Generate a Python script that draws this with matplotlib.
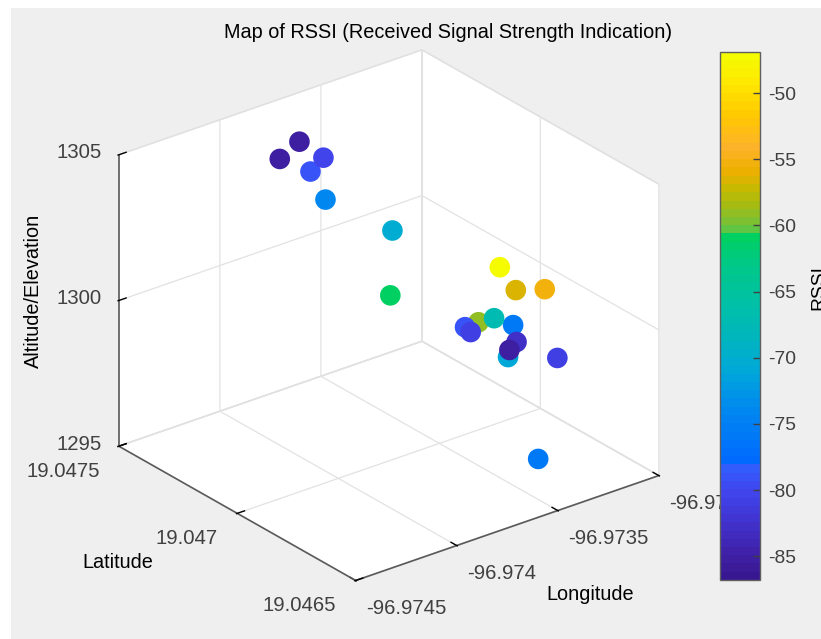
import matplotlib
matplotlib.use('Agg')
import matplotlib.pyplot as plt
from matplotlib.colors import LinearSegmentedColormap
from matplotlib.patches import Rectangle

plt.rcParams['font.family'] = ['Liberation Sans', 'DejaVu Sans']

# points
longitude = [-96.97387, -96.973795, -96.973729, -96.973765, -96.973713, -96.973438, -96.97348,
             -96.973149, -96.973145, -96.973051, -96.973039, -96.973127, -96.973265, -96.973353,
             -96.973027, -96.973187, -96.97341, -96.973058, -96.973148, -96.973312]
latitude = [19.047358, 19.047339, 19.047294, 19.047318, 19.047299, 19.047251, 19.047224,
            19.047044, 19.04698, 19.046938, 19.047228, 19.047087, 19.047092, 19.046993,
            19.047092, 19.046941, 19.046781, 19.047087, 19.046802, 19.046743]
altitude = [1304, 1304.5, 1304, 1303.5, 1302.5, 1301, 1299,
            1300, 1299.5, 1299.5, 1297, 1298, 1298, 1298.5,
            1297.5, 1298, 1299, 1296.5, 1298, 1295.2]
rssi = [-85, -85, -80.5, -79, -74, -70.5, -61,
        -47.5, -56.8, -55.6, -59, -67, -79, -81,
        -76, -83, -85, -71, -81, -76]

lon_ticks = [-96.9745, -96.974, -96.9735, -96.973]
lon_labels = ['-96.9745', '-96.974', '-96.9735', '-96.973']
lat_ticks = [19.0465, 19.047, 19.0475]
lat_labels = ['19.0465', '19.047', '19.0475']
alt_ticks = [1295, 1300, 1305]
alt_labels = ['1295', '1300', '1305']
rssi_ticks = [-85, -80, -75, -70, -65, -60, -55, -50]
rssi_labels = ['-85', '-80', '-75', '-70', '-65', '-60', '-55', '-50']

rssi_min, rssi_max = -86.8, -46.9

# parula-like map with the two hard steps seen in the colorbar
stops = [(-86.8, '#381890'), (-85, '#4020a8'), (-82, '#4038d8'), (-80, '#4048f0'),
         (-78.3, '#3060ff'), (-78.2, '#0068ff'), (-74, '#0088f0'), (-71, '#00a8d8'),
         (-68, '#00b8b8'), (-66, '#00c0a8'), (-63, '#00c888'), (-60.7, '#00d060'),
         (-60.6, '#4cc84c'), (-59.5, '#80c030'), (-58.2, '#a8bb10'), (-57, '#c8b800'),
         (-55.7, '#eeb000'), (-54, '#fdb22b'), (-51.5, '#ffc800'), (-49, '#ffe800'),
         (-46.9, '#f5fb00')]
cmap = LinearSegmentedColormap.from_list(
    'rssi', [((v - rssi_min) / (rssi_max - rssi_min), c) for v, c in stops], N=64)

W, H = 821, 639
fig = plt.figure(figsize=(W / 100, H / 100), dpi=100, facecolor='white')
fig.add_artist(Rectangle((11 / W, 0), 810 / W, 631 / H, transform=fig.transFigure,
                         fc='#efefef', ec='none', zorder=-5))

# square axes, centre picked so the box corners land where they do in the reference
L = 800
ax = fig.add_axes([(378 - L / 2) / W, (H - 326 - L / 2) / H, L / W, L / H], projection='3d')
ax.set_facecolor('none')
ax.set_proj_type('ortho')
ax.view_init(elev=26.3, azim=-128)
ax.set_box_aspect((1, 1, 0.845), zoom=0.769)

sc = ax.scatter(longitude, latitude, altitude, c=rssi, cmap=cmap, vmin=rssi_min, vmax=rssi_max,
                s=220, depthshade=False, edgecolors='none', alpha=1)

ax.set_xlim(lon_ticks[0], lon_ticks[-1])
ax.set_ylim(lat_ticks[0], lat_ticks[-1])
ax.set_zlim(alt_ticks[0], alt_ticks[-1])
ax.set_xticks(lon_ticks, lon_labels)
ax.set_yticks(lat_ticks, lat_labels)
ax.set_zticks(alt_ticks, alt_labels)

for axis in (ax.xaxis, ax.yaxis, ax.zaxis):
    axis.set_pane_color('white')
    axis.pane.set_edgecolor('#dcdcdc')
    axis.line.set_color('#5a5a5a')
    axis.line.set_linewidth(1.2)
    axis._axinfo['grid']['color'] = '#e2e2e2'
    axis._axinfo['grid']['linewidth'] = 0.9
    axis._axinfo['tick']['inward_factor'] = 0.03
    axis._axinfo['tick']['outward_factor'] = 0.3
    axis._axinfo['tick']['linewidth'] = {True: 1.0, False: 1.0}
    axis._axinfo['tick']['color'] = '#5a5a5a'
ax.tick_params(axis='both', labelsize=14.7, labelcolor='#404040', pad=5)
ax.tick_params(axis='y', pad=11)
ax.tick_params(axis='z', pad=14)

for lab in ax.get_xticklabels():
    lab.set_ha('left')
for lab in ax.get_yticklabels():
    lab.set_ha('right')
    lab.set_va('center')
for lab in ax.get_zticklabels():
    lab.set_va('center')

# title and axis labels placed by hand
fig.text(448 / W, 1 - 32 / H, 'Map of RSSI (Received Signal Strength Indication)',
         ha='center', va='center', fontsize=14.35, color='black')
fig.text(118 / W, 1 - 562 / H, 'Latitude', ha='center', va='center', fontsize=14.3)
fig.text(590 / W, 1 - 595 / H, 'Longitude', ha='center', va='center', fontsize=14.3)
fig.text(33 / W, 1 - 291 / H, 'Altitude/Elevation', ha='center', va='center', rotation=90, fontsize=14.3)
fig.text(819 / W, 1 - 288 / H, 'RSSI', ha='center', va='center', rotation=90, fontsize=13.9)

cax = fig.add_axes([720 / W, 1 - 580 / H, 40 / W, 528 / H])
cbar = fig.colorbar(sc, cax=cax)
cbar.set_ticks(rssi_ticks, labels=rssi_labels)
cbar.ax.tick_params(direction='in', length=5, width=1, color='#404040', labelsize=13.9,
                    labelcolor='#404040', pad=6)
cbar.outline.set_edgecolor('#606060')
cbar.outline.set_linewidth(1)
cbar.ax.minorticks_off()

fig.savefig('out.png', dpi=100, facecolor=fig.get_facecolor())
